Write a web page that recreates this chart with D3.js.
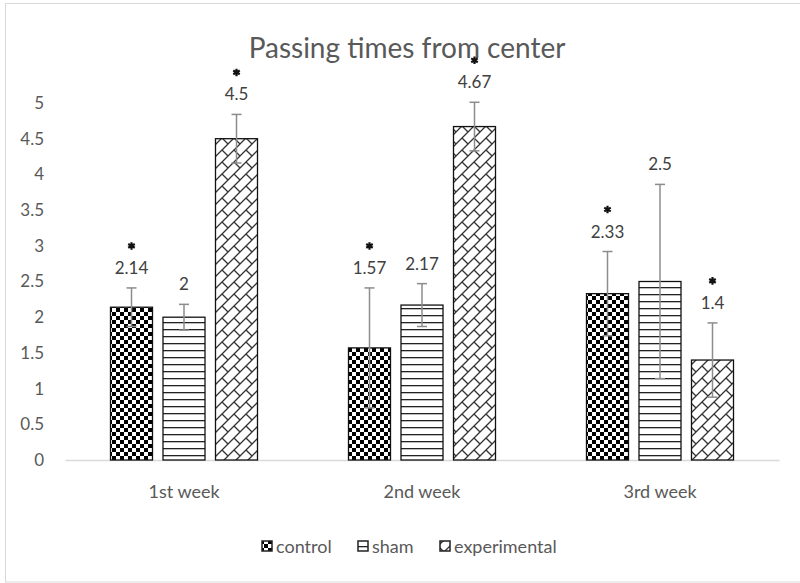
<!DOCTYPE html>
<html>
<head>
<meta charset="utf-8">
<script src="https://cdn.jsdelivr.net/npm/d3@7"></script>
<style>
  body { margin: 0; background: #fff; }
  svg text { font-family: Lato, "Open Sans", sans-serif; }
</style>
</head>
<body>
<svg id="chart" width="800" height="583"></svg>
<script>
"use strict";

// Chart data
var weeks = ["1st week", "2nd week", "3rd week"],
    groups = ["control", "sham", "experimental"],
    controlValues = [2.14, 1.57, 2.33],
    shamValues = [2, 2.17, 2.5],
    experimentalValues = [4.5, 4.67, 1.4],
    controlErrors = [0.27, 0.84, 0.59],
    shamErrors = [0.18, 0.3, 1.36],
    experimentalErrors = [0.34, 0.34, 0.52],
    controlStars = [true, true, true],
    shamStars = [false, false, false],
    experimentalStars = [true, true, true],
    yTicks = [0, 0.5, 1, 1.5, 2, 2.5, 3, 3.5, 4, 4.5, 5];

var series = [
    { name: groups[0], values: controlValues, errors: controlErrors, stars: controlStars, fill: "url(#checker)" },
    { name: groups[1], values: shamValues, errors: shamErrors, stars: shamStars, fill: "url(#hlines)" },
    { name: groups[2], values: experimentalValues, errors: experimentalErrors, stars: experimentalStars, fill: "url(#brick)" }
];

var svg = d3.select("#chart"),
    textColor = "#595959",
    fontFamily = "Lato, 'Open Sans', sans-serif",
    plot = { left: 65, right: 779, top: 103, bottom: 460 };

// outer border of the chart area
svg.append("rect")
    .attr("x", 5.5).attr("y", 3.5)
    .attr("width", 820).attr("height", 578.5)
    .attr("fill", "none")
    .attr("stroke", "#d9d9d9");

// fill patterns
var defs = svg.append("defs");

var checker = defs.append("pattern")
    .attr("id", "checker")
    .attr("patternUnits", "userSpaceOnUse")
    .attr("width", 8).attr("height", 8);
checker.append("rect").attr("width", 8).attr("height", 8).attr("fill", "#fff");
checker.append("rect").attr("width", 4).attr("height", 4).attr("fill", "#000");
checker.append("rect").attr("x", 4).attr("y", 4).attr("width", 4).attr("height", 4).attr("fill", "#000");

var hlines = defs.append("pattern")
    .attr("id", "hlines")
    .attr("patternUnits", "userSpaceOnUse")
    .attr("width", 8).attr("height", 7);
hlines.append("rect").attr("width", 8).attr("height", 7).attr("fill", "#fff");
hlines.append("rect").attr("y", 0).attr("width", 8).attr("height", 1.3).attr("fill", "#222");

var brick = defs.append("pattern")
    .attr("id", "brick")
    .attr("patternUnits", "userSpaceOnUse")
    .attr("width", 12).attr("height", 12);
brick.append("rect").attr("width", 12).attr("height", 12).attr("fill", "#fff");
brick.append("path")
    .attr("d", "M-3,15L15,-3M-3,3L3,-3M9,15L15,9M6,6L12,12")
    .attr("stroke", "#333")
    .attr("stroke-width", 1.3)
    .attr("fill", "none");

// scales
var x0 = d3.scaleBand()
    .domain(weeks)
    .range([plot.left, plot.right]);

var barWidth = 42,
    seriesStep = 52.5;

function barCenter(week, si) {
    return x0(week) + x0.bandwidth() / 2 + (si - 1) * seriesStep;
}

var y = d3.scaleLinear()
    .domain([0, 5])
    .range([plot.bottom, plot.top]);

// title
svg.append("text")
    .attr("x", 407).attr("y", 58)
    .attr("text-anchor", "middle")
    .attr("font-size", 28)
    .attr("fill", textColor)
    .text("Passing times from center");

// y axis tick labels (no axis line in the original)
var yAxis = svg.append("g")
    .attr("transform", "translate(" + 47 + ",0)")
    .call(d3.axisLeft(y).tickValues(yTicks).tickSize(0).tickFormat(d3.format("")));
yAxis.select(".domain").remove();
yAxis.selectAll("text")
    .attr("font-size", 17)
    .attr("fill", textColor)
    .attr("font-family", fontFamily);

// category axis
var xAxis = svg.append("g")
    .attr("transform", "translate(0," + plot.bottom + ")")
    .call(d3.axisBottom(x0).tickSize(0).tickPadding(25));
xAxis.select(".domain").attr("stroke", "#d9d9d9").attr("stroke-width", 1.5);
xAxis.selectAll("text")
    .attr("font-size", 18)
    .attr("fill", textColor)
    .attr("font-family", fontFamily);

// bars
series.forEach(function (s, si) {
    var g = svg.append("g").attr("class", "series-" + s.name);

    g.selectAll("rect")
        .data(weeks)
        .enter().append("rect")
        .attr("x", function (w) { return barCenter(w, si) - barWidth / 2; })
        .attr("y", function (w, i) { return y(s.values[i]); })
        .attr("width", barWidth)
        .attr("height", function (w, i) { return y(0) - y(s.values[i]); })
        .attr("fill", s.fill)
        .attr("stroke", "#111")
        .attr("stroke-width", 1.3);
});

// error bars, labels and significance marks on top
var star = d3.symbol().type(d3.symbolAsterisk).size(40);

series.forEach(function (s, si) {
    var g = svg.append("g");
    weeks.forEach(function (w, i) {
        var cx = barCenter(w, si),
            hi = y(s.values[i] + s.errors[i]),
            lo = y(s.values[i] - s.errors[i]);
        g.append("line")
            .attr("x1", cx).attr("x2", cx)
            .attr("y1", hi).attr("y2", lo)
            .attr("stroke", "#8c8c8c").attr("stroke-width", 1.5);
        [hi, lo].forEach(function (yy) {
            g.append("line")
                .attr("x1", cx - 5).attr("x2", cx + 5)
                .attr("y1", yy).attr("y2", yy)
                .attr("stroke", "#8c8c8c").attr("stroke-width", 1.5);
        });
        g.append("text")
            .attr("x", cx).attr("y", hi - 14)
            .attr("text-anchor", "middle")
            .attr("font-size", 17)
            .attr("fill", "#404040")
            .text(s.values[i]);
        if (s.stars[i]) {
            g.append("path")
                .attr("d", star)
                .attr("transform", "translate(" + cx + "," + (hi - 42) + ")")
                .attr("fill", "none")
                .attr("stroke", "#111")
                .attr("stroke-width", 2.2);
        }
    });
});

// legend
var legendX = [262, 358, 440];
var legend = svg.append("g");
series.forEach(function (s, si) {
    legend.append("rect")
        .attr("x", legendX[si]).attr("y", 541)
        .attr("width", 10).attr("height", 10)
        .attr("fill", s.fill)
        .attr("stroke", "#222").attr("stroke-width", 1.5);
    legend.append("text")
        .attr("x", legendX[si] + 14).attr("y", 553)
        .attr("font-size", 18)
        .attr("fill", textColor)
        .text(s.name);
});
</script>
</body>
</html>
